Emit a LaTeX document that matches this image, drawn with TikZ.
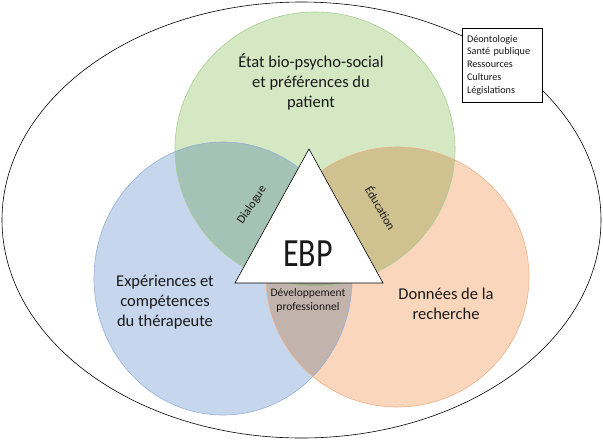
\documentclass[tikz,border=0pt]{standalone}
\usepackage{fontspec}
\setmainfont{Carlito}
\definecolor{patientfill}{RGB}{212,232,196}
\definecolor{therafill}{RGB}{198,214,236}
\definecolor{researchfill}{RGB}{250,214,188}
\definecolor{patientline}{RGB}{168,204,146}
\definecolor{theraline}{RGB}{150,176,216}
\definecolor{researchline}{RGB}{238,178,136}
\begin{document}
\begin{tikzpicture}[x=1pt, y=-1pt,
		every node/.style = {text=black!90, align=center},
		bigtext/.style = {font=\fontsize{16.5}{20}\selectfont},
		smalltext/.style = {font=\fontsize{12}{14}\selectfont},
		listbox/.style = {draw, fill=white, line width=0.5pt, text width=70pt,
			minimum height=74pt, inner xsep=5pt, align=left,
			font=\fontsize{10.2}{12.7}\selectfont}]
		\useasboundingbox (0,0) rectangle (603,440);
		% outer context
		\draw[line width=0.6pt] (301.5,220) ellipse [x radius=299.5, y radius=218];
		% the three circles
		\begin{scope}[blend group=multiply]
			\fill[patientfill] (315,149) ellipse [x radius=140, y radius=137];
			\fill[therafill] (223,278.5) ellipse [x radius=129, y radius=136.5];
			\fill[researchfill] (397.5,277) ellipse [x radius=131.5, y radius=130];
		\end{scope}
		\draw[patientline, line width=0.6pt] (315,149) ellipse [x radius=140, y radius=137];
		\draw[theraline, line width=0.6pt] (223,278.5) ellipse [x radius=129, y radius=136.5];
		\draw[researchline, line width=0.6pt] (397.5,277) ellipse [x radius=131.5, y radius=130];
		% triangle
		\coordinate (apex) at (309,149);
		\coordinate (baseL) at (235,283);
		\coordinate (baseR) at (383,283);
		\draw[fill=white, line width=0.6pt] (apex) -- (baseL) -- (baseR) -- cycle;
		\node (ebp) at (308,254) [xscale=0.8, font=\fontsize{40}{44}\selectfont] {EBP};
		% circle labels
		\node (patient) at (311,82) [bigtext] {État bio-psycho-social\\ et préférences du\\ patient};
		\node (therapist) at (165,302) [bigtext] {Expériences et\\ compétences\\ du thérapeute};
		\node (research) at (446,304) [bigtext] {Données de la\\ recherche};
		% overlap labels
		\node (dialogue) at (252,205) [smalltext, rotate=56] {Dialogue};
		\node (education) at (381,208) [smalltext, rotate=-60] {Éducation};
		\node (devpro) at (308,300) [font=\fontsize{11.5}{14}\selectfont] {Développement\\ professionnel};
		% context list
		\node (context) at (502,65) [listbox] {Déontologie\\ Santé publique\\ Ressources\\ Cultures\\ Législations};
\end{tikzpicture}
\end{document}
